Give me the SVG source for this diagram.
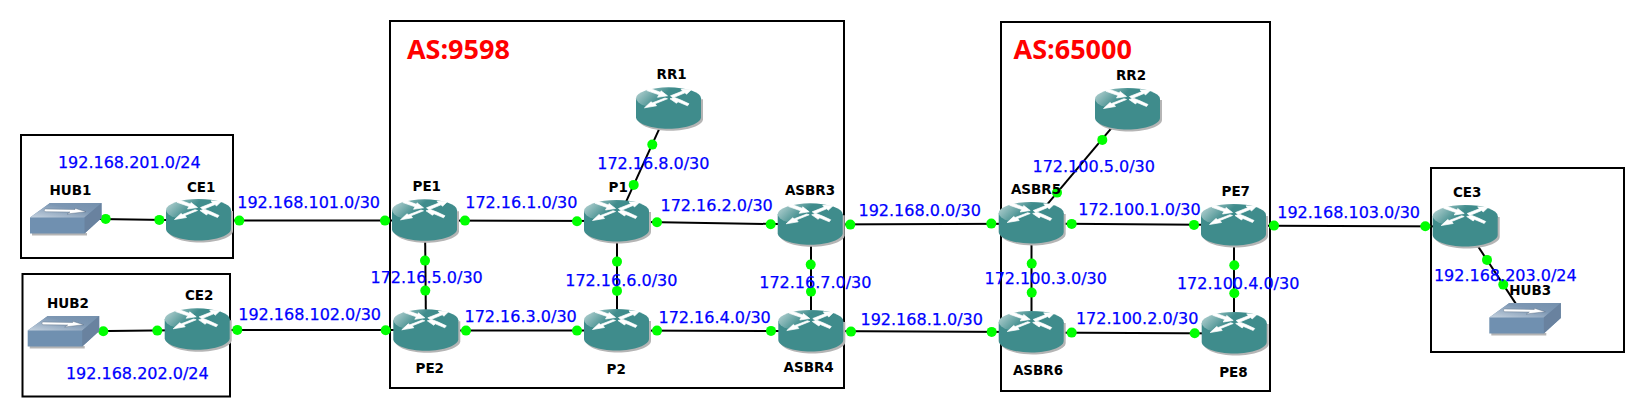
<svg xmlns="http://www.w3.org/2000/svg" width="1645" height="418" viewBox="0 0 1645 418">
<style>
text{font-family:"DejaVu Sans",sans-serif}
.n{font-size:13.500px;font-weight:700;fill:#000;transform:translateX(-.8px)}
.b{font-size:16px;fill:#0000ff;stroke:#0000ff;stroke-width:.25;transform:translateX(-.8px)}
.a{font-family:"Open Sans","Liberation Sans",sans-serif;font-size:27px;font-weight:700;fill:#ff0000;transform:translateX(-.8px)}
.box{fill:none;stroke:#000;stroke-width:2}
.l{stroke:#000;stroke-width:2;fill:none}
.d{fill:#00ff00;stroke:none;r:5px}
.w{fill:#fff;stroke:#fff;stroke-width:.7;stroke-linejoin:round}
</style>
<defs>
<linearGradient id="rt" x1="0" y1="0" x2="1" y2="0.35">
<stop offset="0" stop-color="#c4dbdb"/><stop offset="0.5" stop-color="#3f8c8c"/><stop offset="1" stop-color="#3f8c8c"/>
</linearGradient>
<linearGradient id="ht" x1="0" y1="1" x2="1" y2="0">
<stop offset="0" stop-color="#c5d2df"/><stop offset="0.6" stop-color="#7d97b3"/><stop offset="1" stop-color="#7490ad"/>
</linearGradient>
<symbol id="router" width="68" height="46" viewBox="0 0 68 46" overflow="visible">
<path d="M2 12V32C2 38 16 43.500 34 43.500S67 38 67 32V12Z" fill="#b5b5b5"/>
<path d="M0 11V30C0 36 14.500 41.500 32.500 41.500S65 36 65 30V11Z" fill="#3f8c8c"/>
<ellipse cx="32.500" cy="11" rx="32.500" ry="11" fill="url(#rt)"/>
<path class="w" d="M11.500 2L14 1.200L24.500 5L25 3.500L31.500 8.500L21.500 10L23 7.500L11 3.300Z"/>
<path class="w" d="M34.500 8.500L46.500 3.800L45 1.800L55.500 2.300L50.500 7L49 5.500L37 10.500Z"/>
<path class="w" d="M31.500 11.500L19 16.500L20.500 18.500L8.500 20.500L15 14.500L16.500 15.500L29 10.700Z"/>
<path class="w" d="M36 11L38.500 10.200L45 12.800L53 16.500L51.500 18.500L42 14.500L40.500 16L34 11.500Z"/>
</symbol>
<symbol id="hub" width="74" height="34" viewBox="0 0 74 34" overflow="visible">
<rect x="2" y="30" width="55" height="2.500" fill="#b5b5b5"/>
<path d="M20 0H71.500V15L54.500 30.500H0V14.500Z" fill="#7090b0"/>
<path d="M20 0H71.500L54.500 14.500H0Z" fill="url(#ht)"/>
<path d="M54.500 14.500L71.500 0V15L54.500 30.500Z" fill="#69829f"/>
<path d="M14 7L15 6L45 6.500L45 5.300L56 8.700L37 11L40 9L15 8.700Z" fill="#fff" stroke="#4f6278" stroke-width=".4"/>
</symbol>
</defs>
<rect width="1645" height="418" fill="#fff"/>
<g id="areas">
<rect class="box" x="21" y="135" width="212" height="123"/>
<rect class="box" x="22.500" y="274" width="207.500" height="122.500"/>
<rect class="box" x="390" y="21" width="454" height="367"/>
<rect class="box" x="1001" y="22" width="269" height="369"/>
<rect class="box" x="1431" y="168" width="193" height="184"/>
</g>
<g id="connectors" transform="translate(0,-.4)">
<line class="l" x1="66" y1="219" x2="199" y2="221"/>
<line class="l" x1="199" y1="221" x2="425" y2="221"/>
<line class="l" x1="64" y1="332" x2="197" y2="330.500"/>
<line class="l" x1="197" y1="330.500" x2="426" y2="330.500"/>
<line class="l" x1="425" y1="221" x2="617" y2="221.500"/>
<line class="l" x1="617" y1="222" x2="810" y2="225"/>
<line class="l" x1="425" y1="221" x2="426" y2="331"/>
<line class="l" x1="617" y1="222" x2="617" y2="331"/>
<line class="l" x1="811" y1="225" x2="811" y2="331"/>
<line class="l" x1="426" y1="331" x2="617" y2="331"/>
<line class="l" x1="617" y1="331" x2="811" y2="331.500"/>
<line class="l" x1="668" y1="110" x2="617" y2="222"/>
<line class="l" x1="811" y1="225" x2="1031" y2="224"/>
<line class="l" x1="811" y1="331.500" x2="1031" y2="332.500"/>
<line class="l" x1="1127" y1="110" x2="1031" y2="224"/>
<line class="l" x1="1031" y1="224" x2="1234" y2="225.500"/>
<line class="l" x1="1031.500" y1="224" x2="1031.500" y2="332"/>
<line class="l" x1="1031" y1="333" x2="1234" y2="334"/>
<line class="l" x1="1234" y1="225" x2="1234" y2="334"/>
<line class="l" x1="1234" y1="226" x2="1465" y2="227"/>
<line class="l" x1="1465" y1="227" x2="1525" y2="318"/>
<circle class="d" cx="105.700" cy="219.300" r="5"/><circle class="d" cx="159.300" cy="220.300" r="5"/>
<circle class="d" cx="239.300" cy="221" r="5"/><circle class="d" cx="385" cy="221" r="5"/>
<circle class="d" cx="103.300" cy="331.700" r="5"/><circle class="d" cx="157.300" cy="331" r="5"/>
<circle class="d" cx="237.300" cy="330.300" r="5"/><circle class="d" cx="385.700" cy="330.700" r="5"/>
<circle class="d" cx="465" cy="221" r="5"/><circle class="d" cx="577" cy="221.700" r="5"/>
<circle class="d" cx="657" cy="222.700" r="5"/><circle class="d" cx="770.700" cy="224.700" r="5"/>
<circle class="d" cx="425" cy="261" r="5"/><circle class="d" cx="425.300" cy="291" r="5"/>
<circle class="d" cx="617" cy="262" r="5"/><circle class="d" cx="617" cy="291.300" r="5"/>
<circle class="d" cx="810.700" cy="265" r="5"/><circle class="d" cx="811" cy="292" r="5"/>
<circle class="d" cx="466" cy="331" r="5"/><circle class="d" cx="577" cy="331" r="5"/>
<circle class="d" cx="657" cy="331" r="5"/><circle class="d" cx="771" cy="331.300" r="5"/>
<circle class="d" cx="652.300" cy="145" r="5"/><circle class="d" cx="633.700" cy="185.300" r="5"/>
<circle class="d" cx="850.300" cy="225" r="5"/><circle class="d" cx="991.300" cy="224" r="5"/>
<circle class="d" cx="851" cy="332" r="5"/><circle class="d" cx="991.700" cy="332.300" r="5"/>
<circle class="d" cx="1102.300" cy="140.300" r="5"/><circle class="d" cx="1057" cy="193" r="5"/>
<circle class="d" cx="1071.700" cy="224.300" r="5"/><circle class="d" cx="1194" cy="225.300" r="5"/>
<circle class="d" cx="1031.700" cy="264" r="5"/><circle class="d" cx="1031.700" cy="293" r="5"/>
<circle class="d" cx="1071.700" cy="333" r="5"/><circle class="d" cx="1194.700" cy="333.700" r="5"/>
<circle class="d" cx="1234.300" cy="265.700" r="5"/><circle class="d" cx="1234.300" cy="293.700" r="5"/>
<circle class="d" cx="1274" cy="226" r="5"/><circle class="d" cx="1425.300" cy="226.700" r="5"/>
<circle class="d" cx="1487" cy="260.300" r="5"/><circle class="d" cx="1503.300" cy="285" r="5"/>
</g>
<g id="HUB1"><use href="#hub" x="30" y="203"/><text class="n" x="50.300" y="195.300">HUB1</text></g>
<g id="CE1"><use href="#router" x="166" y="199"/><text class="n" x="187.700" y="191.700">CE1</text></g>
<g id="HUB2"><use href="#hub" x="27.700" y="316"/><text class="n" x="47.700" y="308.300">HUB2</text></g>
<g id="CE2"><use href="#router" x="164.700" y="308.300"/><text class="n" x="185.700" y="300.300">CE2</text></g>
<g id="PE1"><use href="#router" x="392" y="199.300"/><text class="n" x="413.300" y="191">PE1</text></g>
<g id="P1"><use href="#router" x="584" y="200"/><text class="n" x="609.300" y="192">P1</text></g>
<g id="ASBR3"><use href="#router" x="777.700" y="203.300"/><text class="n" x="785.700" y="195">ASBR3</text></g>
<g id="PE2"><use href="#router" x="393.300" y="309.300"/><text class="n" x="416.300" y="373">PE2</text></g>
<g id="P2"><use href="#router" x="584" y="309"/><text class="n" x="607.300" y="374">P2</text></g>
<g id="ASBR4"><use href="#router" x="778.300" y="310"/><text class="n" x="784.300" y="372">ASBR4</text></g>
<g id="RR1"><use href="#router" x="636" y="87.300"/><text class="n" x="657.300" y="79">RR1</text></g>
<g id="ASBR5"><use href="#router" x="998.700" y="202"/><text class="n" x="1011.700" y="194.300">ASBR5</text></g>
<g id="PE7"><use href="#router" x="1201" y="204"/><text class="n" x="1222.300" y="196">PE7</text></g>
<g id="ASBR6"><use href="#router" x="998.700" y="311"/><text class="n" x="1013.700" y="375.300">ASBR6</text></g>
<g id="PE8"><use href="#router" x="1201.700" y="312"/><text class="n" x="1220" y="377">PE8</text></g>
<g id="RR2"><use href="#router" x="1095" y="88"/><text class="n" x="1116.700" y="80.300">RR2</text></g>
<g id="CE3"><use href="#router" x="1432.700" y="205"/><text class="n" x="1453.700" y="196.700">CE3</text></g>
<g id="HUB3"><use href="#hub" x="1489.300" y="303"/><text class="n" x="1510" y="295">HUB3</text></g>
<g id="labels">
<text class="a" x="407.700" y="59.300">AS:9598</text>
<text class="a" x="1014.300" y="59.300">AS:65000</text>
<text class="b" x="58.700" y="168.300">192.168.201.0/24</text>
<text class="b" x="238" y="208">192.168.101.0/30</text>
<text class="b" x="239" y="320.300">192.168.102.0/30</text>
<text class="b" x="66.700" y="379">192.168.202.0/24</text>
<text class="b" x="598" y="169">172.16.8.0/30</text>
<text class="b" x="466" y="208">172.16.1.0/30</text>
<text class="b" x="661.300" y="211">172.16.2.0/30</text>
<text class="b" x="371.300" y="283.300">172.16.5.0/30</text>
<text class="b" x="566" y="286">172.16.6.0/30</text>
<text class="b" x="760" y="288.300">172.16.7.0/30</text>
<text class="b" x="465.300" y="322">172.16.3.0/30</text>
<text class="b" x="659.300" y="323">172.16.4.0/30</text>
<text class="b" x="859.300" y="216">192.168.0.0/30</text>
<text class="b" x="861.300" y="324.700">192.168.1.0/30</text>
<text class="b" x="1033.300" y="172">172.100.5.0/30</text>
<text class="b" x="1079" y="215.300">172.100.1.0/30</text>
<text class="b" x="985.300" y="284">172.100.3.0/30</text>
<text class="b" x="1177.700" y="289">172.100.4.0/30</text>
<text class="b" x="1076.700" y="324">172.100.2.0/30</text>
<text class="b" x="1278" y="217.700">192.168.103.0/30</text>
<text class="b" x="1434.700" y="281">192.168.203.0/24</text>
</g>
</svg>
